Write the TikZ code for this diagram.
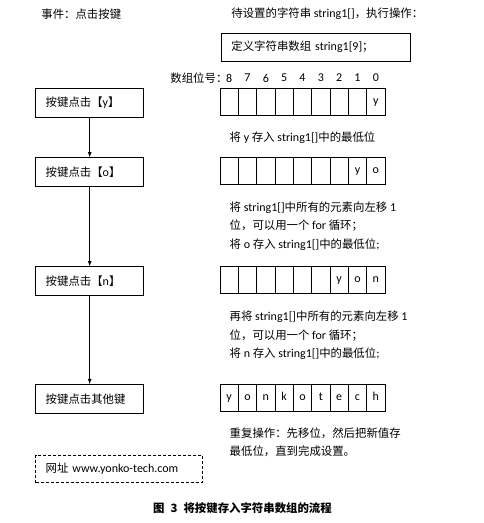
\documentclass[tikz,border=0pt]{standalone}
\usepackage{fontspec}
\setmainfont{Carlito}
\newfontfamily\cjk[Scale=0.95]{Noto Sans CJK SC}
\begin{document}
\begin{tikzpicture}[x=1pt, y=-1pt, line width=0.8pt,
    every node/.style={font=\fontsize{12}{18.5}\selectfont},
    keybox/.style={draw, text width=88pt, inner xsep=10pt, minimum height=29pt, align=left},
    cell/.style={draw, minimum width=18.33pt, minimum height=27.4pt, inner sep=0pt, text height=7pt, text depth=2pt},
    note/.style={anchor=west, align=left, inner sep=0pt}]
    \useasboundingbox (0,0) rectangle (484,523);

    % 标题行
    \node[note] (event) at (41, 14) {\cjk 事件：点击按键};
    \node[note] (todo) at (231, 14) {{\cjk 待设置的字符串} string1[]{\cjk ，执行操作：}};
    \node[draw, text width=169pt, inner xsep=10pt, minimum height=28pt, align=left, anchor=west] (def) at (221, 47) {{\cjk 定义字符串数组} string1[9]{\cjk ；}};

    % 数组位号
    \node[note] (idx) at (170, 78) {\cjk 数组位号：};
    \foreach \i in {0,...,8} {
        \node (n\i) at ({229.2+(8-\i)*18.33}, 78) {\i};
    }

    % 按键
    \node[keybox] (k1) at (89.7, 102.8) {{\cjk 按键点击【}y{\cjk 】}};
    \node[keybox] (k2) at (89.7, 172.2) {{\cjk 按键点击【}o{\cjk 】}};
    \node[keybox] (k3) at (89.7, 281.2) {{\cjk 按键点击【}n{\cjk 】}};
    \node[keybox] (k4) at (89.7, 399) {\cjk 按键点击其他键};

    \draw[-latex] (k1) -- (k2);
    \draw[-latex] (k2) -- (k3);
    \draw[-latex] (k3) -- (k4);

    % 数组
    \foreach \i/\c in {8/{},7/{},6/{},5/{},4/{},3/{},2/{},1/{},0/y} {
        \node[cell] (a\i) at ({229.2+(8-\i)*18.33}, 102) {\c};
    }
    \foreach \i/\c in {8/{},7/{},6/{},5/{},4/{},3/{},2/{},1/y,0/o} {
        \node[cell] (b\i) at ({229.2+(8-\i)*18.33}, 171) {\c};
    }
    \foreach \i/\c in {8/{},7/{},6/{},5/{},4/{},3/{},2/y,1/o,0/n} {
        \node[cell] (c\i) at ({229.2+(8-\i)*18.33}, 280) {\c};
    }
    \foreach \i/\c in {8/y,7/o,6/n,5/k,4/o,3/t,2/e,1/c,0/h} {
        \node[cell] (d\i) at ({229.2+(8-\i)*18.33}, 398) {\c};
    }

    % 说明
    \node[note] (s1) at (229.3, 138) {{\cjk 将} y {\cjk 存入} string1[]{\cjk 中的最低位}};
    \node[note] (s2) at (229.3, 225.8) {{\cjk 将} string1[]{\cjk 中所有的元素向左移} 1\\
        {\cjk 位，可以用一个} for {\cjk 循环；}\\
        {\cjk 将} o {\cjk 存入} string1[]{\cjk 中的最低位};};
    \node[note] (s3) at (229.3, 335.3) {{\cjk 再将} string1[]{\cjk 中所有的元素向左移} 1\\
        {\cjk 位，可以用一个} for {\cjk 循环；}\\
        {\cjk 将} n {\cjk 存入} string1[]{\cjk 中的最低位};};
    \node[note] (s4) at (229.3, 442.5) {{\cjk 重复操作：先移位，然后把新值存}\\
        {\cjk 最低位，直到完成设置。}};

    % 网址
    \node[draw, dash pattern=on 3pt off 2pt, text width=146.6pt, inner xsep=10pt, minimum height=27.4pt, align=left] (web) at (119, 469) {{\cjk 网址} www.yonko-tech.com};

    \node (cap) at (242.5, 508) {\cjk\bfseries 图\hspace{6pt}3\hspace{6pt}将按键存入字符串数组的流程};
\end{tikzpicture}
\end{document}
